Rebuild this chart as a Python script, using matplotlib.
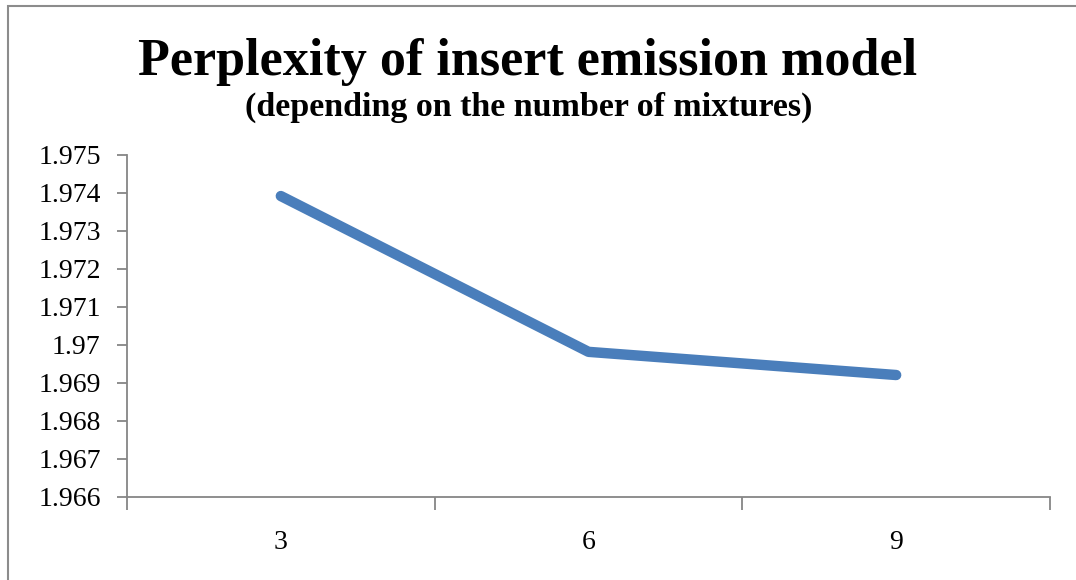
import matplotlib.pyplot as plt
from matplotlib.patches import Rectangle
import numpy as np

# chart data
mixtures = ["3", "6", "9"]
perplexity = [1.97392, 1.96982, 1.96921]
y_ticks = [1.966, 1.967, 1.968, 1.969, 1.97, 1.971, 1.972, 1.973, 1.974, 1.975]
y_labels = ["1.966", "1.967", "1.968", "1.969", "1.97", "1.971", "1.972", "1.973", "1.974", "1.975"]

plt.rcParams["font.family"] = ["Liberation Serif", "DejaVu Serif"]

fig = plt.figure(figsize=(10.76, 5.8), dpi=100)
ax = fig.add_axes([127 / 1076, 83 / 580, (1050 - 127) / 1076, (497 - 155) / 580])

# categorical positions at the centre of each slot
x = np.arange(len(mixtures)) + 0.5
ax.plot(x, perplexity, color="#4a7ebb", linewidth=7.5, solid_capstyle="round",
        solid_joinstyle="round")

ax.set_xlim(0, len(mixtures))
ax.set_ylim(y_ticks[0], y_ticks[-1])

grey = "#868686"
for side in ["top", "right"]:
    ax.spines[side].set_visible(False)
for side in ["left", "bottom"]:
    ax.spines[side].set_color(grey)
    ax.spines[side].set_linewidth(1.3)

ax.set_yticks(y_ticks)
ax.set_yticklabels(y_labels, fontsize=20)
ax.tick_params(axis="y", direction="out", length=7, width=1.3, color=grey, pad=12)

# boundary ticks without labels, category labels in the middle
ax.set_xticks(np.arange(len(mixtures) + 1))
ax.set_xticklabels([])
ax.tick_params(axis="x", which="major", direction="out", length=9, width=1.3, color=grey)
ax.set_xticks(x, minor=True)
ax.set_xticklabels(mixtures, minor=True, fontsize=20)
ax.tick_params(axis="x", which="minor", length=0, pad=24)

fig.text(528 / 1076, 1 - 62 / 580, "Perplexity of insert emission model",
         ha="center", va="center", fontsize=37.5, fontweight="bold")
fig.text(529 / 1076, 1 - 107 / 580, "(depending on the number of mixtures)",
         ha="center", va="center", fontsize=24.5, fontweight="bold")

# outer chart frame (only top and left edges are visible in the crop)
fig.patches.append(Rectangle((8 / 1076, -0.1), 1.2, 1 - 6 / 580 + 0.1,
                             transform=fig.transFigure, fill=False,
                             edgecolor="#8c8c8c", linewidth=1.5))

fig.savefig("out.png", dpi=100)
